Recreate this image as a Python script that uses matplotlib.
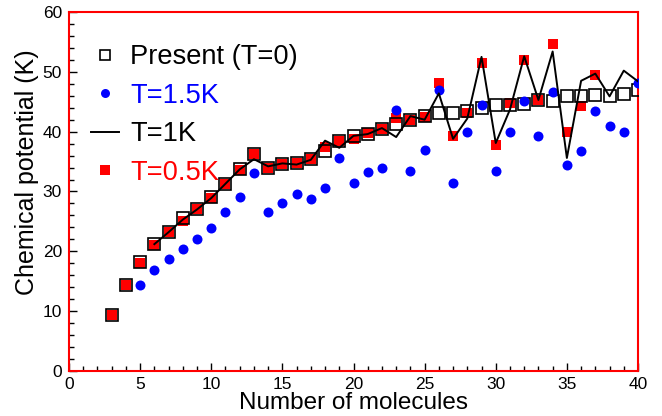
import matplotlib
matplotlib.use("Agg")
import matplotlib.pyplot as plt
from matplotlib.ticker import MultipleLocator

plt.rcParams["font.family"] = ["Liberation Sans", "DejaVu Sans"]

# values
n_present = list(range(3, 41))
mu_present = [9.4, 14.4, 18.2, 21.3, 23.3, 25.5, 27.1, 29.0, 31.3, 33.8,
              36.2, 34.0, 34.6, 34.8, 35.5, 36.7, 38.4, 39.2, 39.6, 40.4,
              41.2, 41.9, 42.6, 43.2, 43.2, 43.4, 43.9, 44.5, 44.5, 44.7,
              45.3, 45.1, 46.0, 46.0, 46.2, 45.9, 46.3, 47.0]

n_t15 = list(range(5, 41))
mu_t15 = [14.4, 16.9, 18.7, 20.4, 22.1, 23.9, 26.6, 29.1, 33.1, 26.6,
          28.1, 29.5, 28.7, 30.6, 35.6, 31.4, 33.2, 33.9, 43.6, 33.4,
          36.9, 46.9, 31.4, 39.9, 44.5, 33.4, 39.9, 45.2, 39.2, 46.6,
          34.5, 36.7, 43.4, 41.0, 40.0, 48.1]

n_t1 = list(range(6, 41))
mu_t1 = [21.2, 23.2, 25.3, 27.0, 28.9, 31.3, 33.7, 35.4, 34.2, 34.7,
         34.5, 35.3, 38.5, 37.3, 39.3, 39.6, 40.6, 39.1, 42.6, 42.0,
         46.4, 38.8, 42.2, 52.5, 38.1, 43.7, 52.6, 45.3, 53.4, 35.6,
         48.5, 49.7, 45.9, 50.2, 48.4]

n_t05 = list(range(3, 38))
mu_t05 = [9.4, 14.4, 18.1, 21.0, 23.2, 25.1, 27.0, 28.9, 31.3, 33.6,
          36.2, 33.9, 34.6, 34.8, 35.4, 37.4, 38.5, 38.7, 39.8, 40.4,
          42.3, 41.9, 42.4, 48.1, 39.2, 43.1, 51.4, 37.8, 44.8, 51.9,
          45.3, 54.7, 40.0, 44.3, 49.5]

RED = "#ff0000"
BLUE = "#0000ff"

fig = plt.figure(figsize=(6.62, 4.16), dpi=100)
ax = fig.add_axes([69 / 662, 45 / 416, 569 / 662, 359 / 416])

ax.plot(n_t05, mu_t05, "s", color=RED, markersize=7.5, markeredgewidth=0,
        label="T=0.5K", zorder=2)
ax.plot(n_present, mu_present, "s", markerfacecolor="none",
        markeredgecolor="black", markersize=8, markeredgewidth=1.2,
        label="Present (T=0)", zorder=3)
ax.plot(n_t15, mu_t15, "o", color=BLUE, markersize=7.2, markeredgewidth=0,
        label="T=1.5K", zorder=4)
ax.plot(n_t1, mu_t1, "-", color="black", linewidth=1.4, label="T=1K",
        zorder=5)

ax.set_xlim(0, 40)
ax.set_ylim(0, 60)
ax.xaxis.set_major_locator(MultipleLocator(5))
ax.xaxis.set_minor_locator(MultipleLocator(1))
ax.yaxis.set_major_locator(MultipleLocator(10))
ax.yaxis.set_minor_locator(MultipleLocator(2))
ax.tick_params(which="both", direction="in", top=False, right=False,
               labelsize=12.5, colors="black", pad=5)
ax.tick_params(axis="x", which="both", pad=4)
ax.tick_params(which="major", length=6, width=1)
ax.tick_params(which="minor", length=3.5, width=1)
for sp in ax.spines.values():
    sp.set_color(RED)
    sp.set_linewidth(1.5)

ax.set_xlabel("Number of molecules", fontsize=17.5, labelpad=0.5)
ax.set_ylabel("Chemical potential (K)", fontsize=18)
ax.yaxis.set_label_coords(-0.052, 0.554)

h, l = ax.get_legend_handles_labels()
order = [1, 2, 3, 0]
leg = ax.legend([h[i] for i in order], [l[i] for i in order],
                loc="upper left", bbox_to_anchor=(0.038, 0.91),
                frameon=False, fontsize=19.6, handlelength=1.05,
                handletextpad=0.4, labelspacing=0.46, borderpad=0,
                borderaxespad=0, markerscale=0.9)
for txt, c in zip(leg.get_texts(), ["black", BLUE, "black", RED]):
    txt.set_color(c)

fig.savefig("out.png", dpi=100)
